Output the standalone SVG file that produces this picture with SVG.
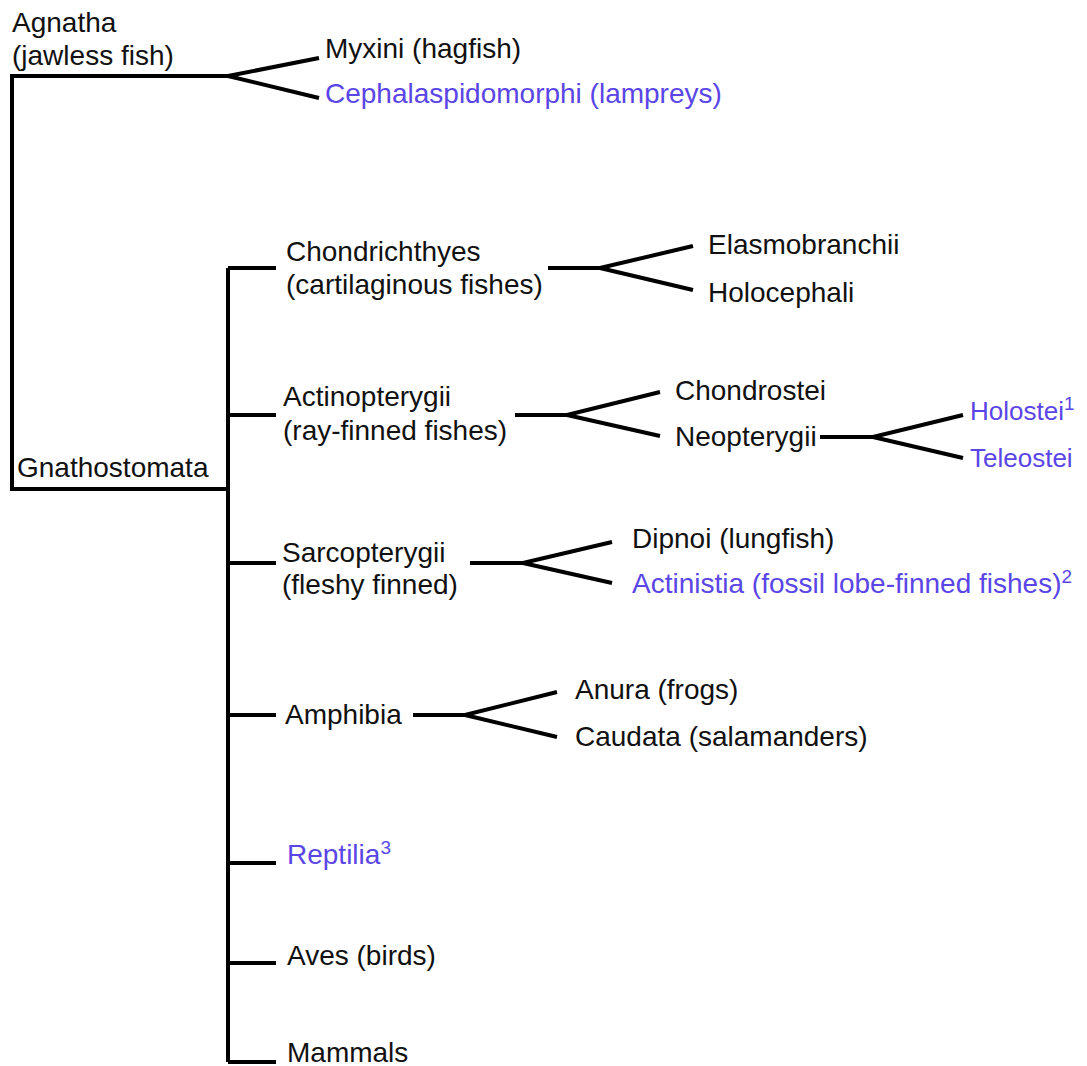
<svg xmlns="http://www.w3.org/2000/svg" width="1087" height="1066" viewBox="0 0 1087 1066">
<style>
text { font-family: "Liberation Sans", Arial, sans-serif; font-size: 28px; fill: #111; }
.b { fill: #5a46e6; }
.s26 { font-size: 26px; }
.sup { font-size: 19px; }
.ln { fill: none; stroke: #000; stroke-width: 4; stroke-linejoin: miter; }
</style>
<rect width="1087" height="1066" fill="#fff"/>
<g id="connectors" class="ln">
<path class="ln" d="M228,76 H12 V489 H228"/>
<path class="ln" d="M228,76 L319,58 M228,76 L319,98"/>
<path class="ln" d="M228,268 V1062"/>
<path class="ln" d="M228,268 H276 M228,415 H276 M228,563 H276 M228,715 H276 M228,863 H276 M228,963 H276 M228,1062 H276"/>
<path class="ln" d="M548,268 H600 L693,246 M600,268 L693,290"/>
<path class="ln" d="M515,415 H567 L660,392 M567,415 L660,436"/>
<path class="ln" d="M820,437 H873 L963,415 M873,437 L963,458"/>
<path class="ln" d="M470,563 H523 L612,542 M523,563 L612,583"/>
<path class="ln" d="M413,715 H465 L557,692 M465,715 L557,737"/>
</g>
<g id="agnatha"><text x="12" y="32">Agnatha</text><text x="12" y="65">(jawless fish)</text></g>
<g id="myxini"><text x="325" y="58">Myxini (hagfish)</text></g>
<g id="cephalaspidomorphi"><text class="b" x="325" y="103">Cephalaspidomorphi (lampreys)</text></g>
<g id="gnathostomata"><text x="17" y="477">Gnathostomata</text></g>
<g id="chondrichthyes"><text x="286" y="261">Chondrichthyes</text><text x="286" y="294">(cartilaginous fishes)</text></g>
<g id="elasmobranchii"><text x="708" y="254">Elasmobranchii</text></g>
<g id="holocephali"><text x="708" y="302">Holocephali</text></g>
<g id="actinopterygii"><text x="283" y="406">Actinopterygii</text><text x="283" y="440">(ray-finned fishes)</text></g>
<g id="chondrostei"><text x="675" y="400">Chondrostei</text></g>
<g id="neopterygii"><text x="675" y="446">Neopterygii</text></g>
<g id="holostei"><text class="b s26" x="970" y="420">Holostei<tspan class="sup" dy="-10">1</tspan></text></g>
<g id="teleostei"><text class="b s26" x="970" y="467">Teleostei</text></g>
<g id="sarcopterygii"><text x="282" y="562">Sarcopterygii</text><text x="282" y="594">(fleshy finned)</text></g>
<g id="dipnoi"><text x="632" y="548">Dipnoi (lungfish)</text></g>
<g id="actinistia"><text class="b" x="632" y="593">Actinistia (fossil lobe-finned fishes)<tspan class="sup" dy="-10">2</tspan></text></g>
<g id="amphibia"><text x="285" y="724">Amphibia</text></g>
<g id="anura"><text x="575" y="699">Anura (frogs)</text></g>
<g id="caudata"><text x="575" y="746">Caudata (salamanders)</text></g>
<g id="reptilia"><text class="b" x="287" y="864">Reptilia<tspan class="sup" dy="-10">3</tspan></text></g>
<g id="aves"><text x="287" y="965">Aves (birds)</text></g>
<g id="mammals"><text x="287" y="1062">Mammals</text></g>
</svg>
